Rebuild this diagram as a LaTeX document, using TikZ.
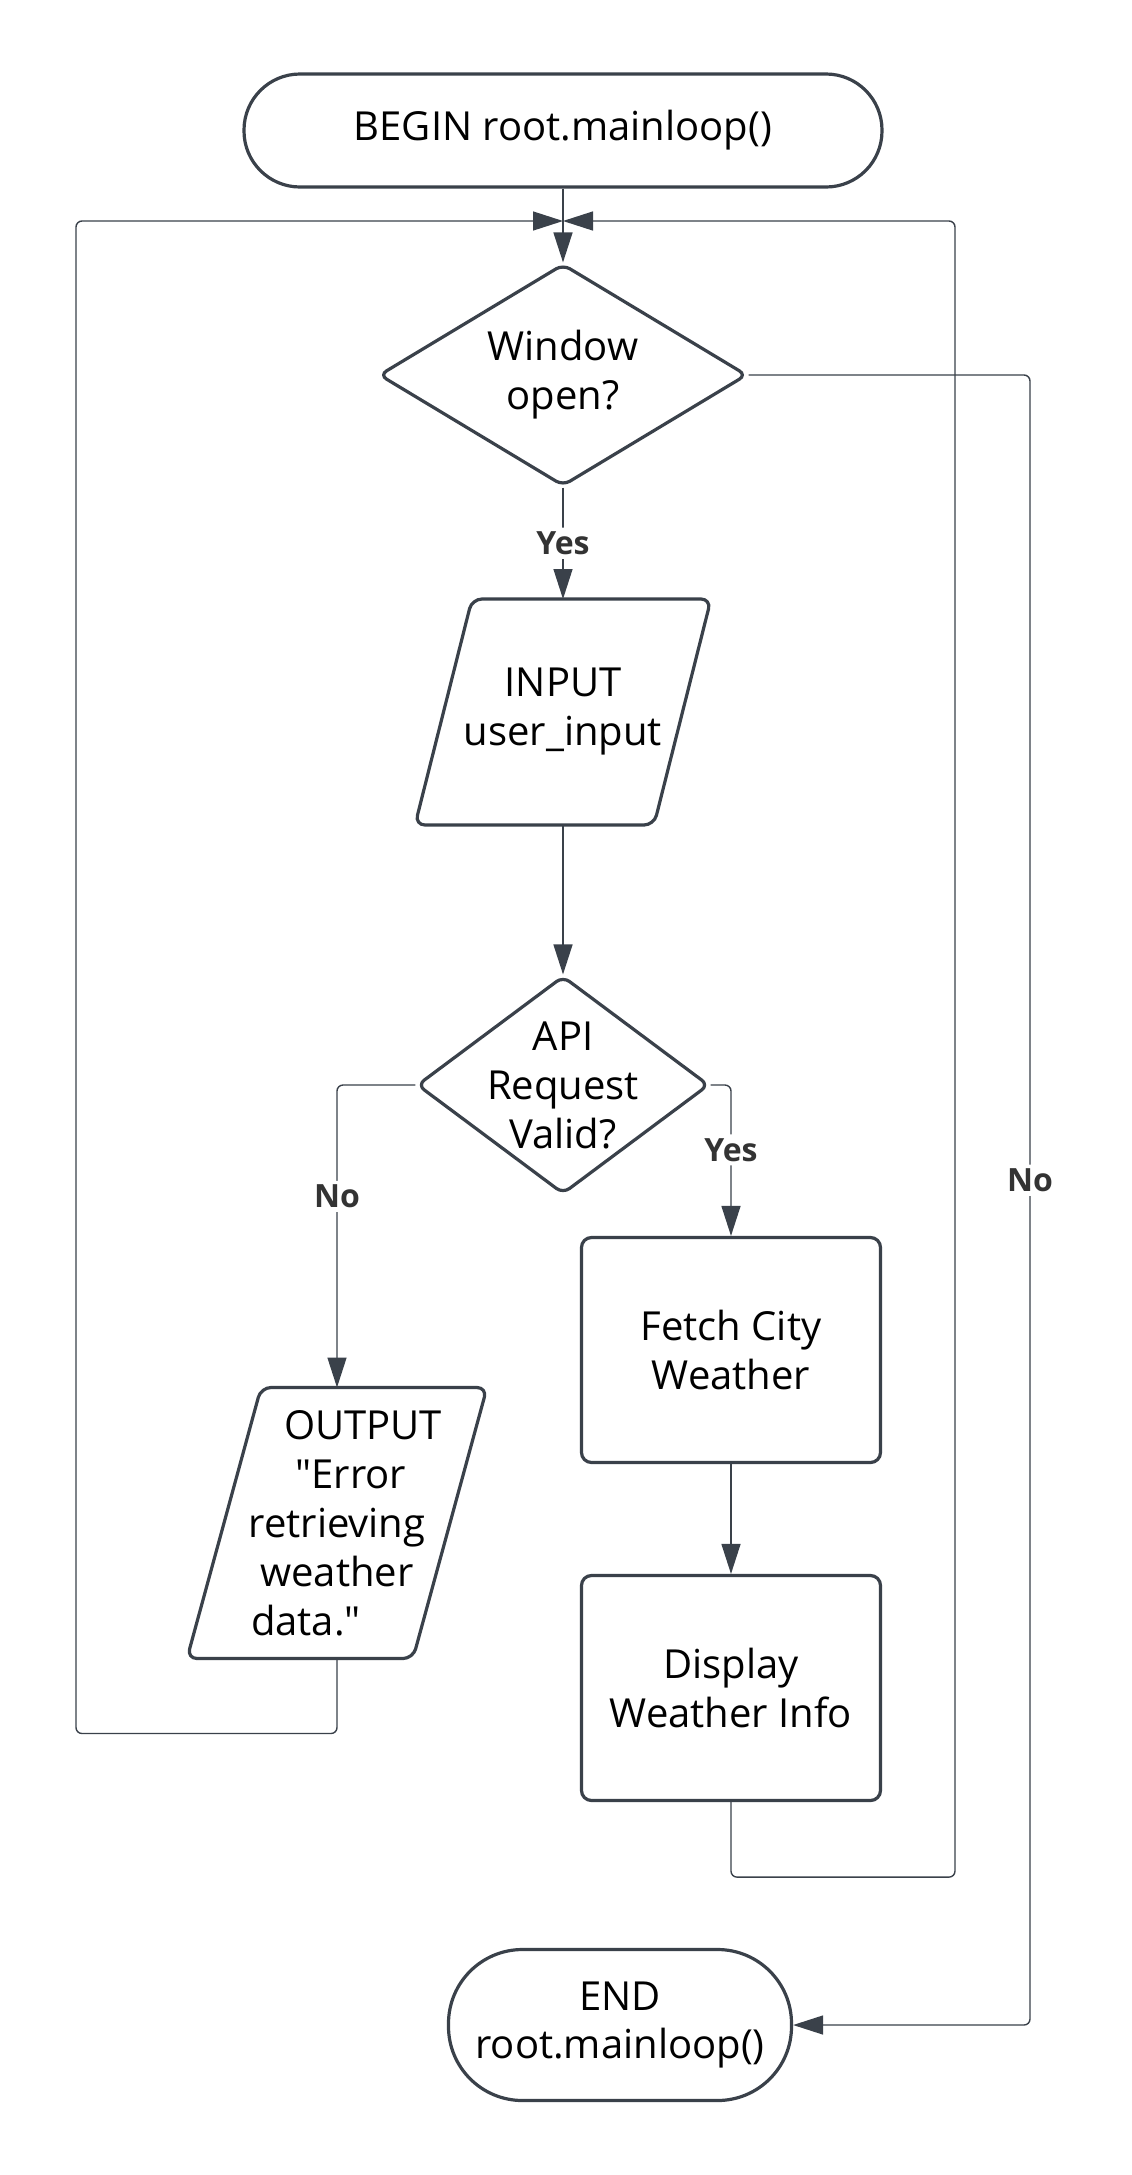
\documentclass[tikz,border=0pt]{standalone}
\usepackage{fontspec}
\setmainfont{Open Sans}
\usetikzlibrary{arrows.meta, shapes.geometric}

\definecolor{ink}{HTML}{3A414A}
\definecolor{labelgray}{HTML}{333333}

\begin{document}
\begin{tikzpicture}[x=0.5pt,y=-0.5pt,>={Triangle[length=15pt,width=9.5pt]},
  boxfont/.style={font=\fontsize{20}{24.5}\selectfont},
  terminal/.style={draw=ink, line width=1.6pt, fill=white, rectangle, boxfont, align=center, inner sep=0pt},
  decision/.style={draw=ink, line width=1.6pt, fill=white, diamond, rounded corners=4pt, inner sep=0pt},
  iobody/.style={rectangle, boxfont, align=center, inner sep=0pt, outer sep=0pt},
  outline/.style={draw=ink, line width=1.6pt, rounded corners=5pt},
  process/.style={draw=ink, line width=1.6pt, fill=white, rectangle, rounded corners=5pt,
    minimum width=149.5pt, minimum height=112.5pt, boxfont, align=center},
  flow/.style={draw=ink, line width=0.7pt, ->, rounded corners=3pt},
  flowlabel/.style={fill=white, text=labelgray, font=\fontsize{16}{19}\selectfont\bfseries, inner sep=2pt},
  every label/.style={align=center, boxfont}]

  % --- page ---------------------------------------------------------
  \path[fill=white, use as bounding box] (0,0) rectangle (1131,2175);

  % --- main column --------------------------------------------------
  \node[terminal, minimum width=319pt, minimum height=56.5pt, rounded corners=28pt]
        (begin) at (563,130.5) {BEGIN root.mainloop()};
  \node[decision, minimum width=184pt, minimum height=111pt, label={center:Window\\open?}]
        (window) at (563,375) {};
  \node[iobody, minimum width=119.5pt, minimum height=113pt]
        (input) at (563,712) {INPUT\\user\_input};
  \draw[outline] ([xshift=14.25pt]input.north west) -- ([xshift=14.25pt]input.north east)
        -- ([xshift=-14.25pt]input.south east) -- ([xshift=-14.25pt]input.south west) -- cycle;
  \node[decision, minimum width=146pt, minimum height=109pt, label={center:API\\Request\\Valid?}]
        (valid) at (563,1085) {};

  % --- branches -----------------------------------------------------
  \node[process] (fetch) at (731,1350) {Fetch City\\Weather};
  \node[process] (show) at (731,1688) {Display\\Weather Info};
  \node[iobody, minimum width=113pt, minimum height=135.5pt]
        (error) at (337,1523) {\hspace*{26pt}OUTPUT\\\hspace*{14pt}\textquotedbl Error\\retrieving\\weather\hspace*{13pt}\\data.\textquotedbl\hspace*{31pt}};
  \draw[outline] ([xshift=18.5pt]error.north west) -- ([xshift=18.5pt]error.north east)
        -- ([xshift=-18.5pt]error.south east) -- ([xshift=-18.5pt]error.south west) -- cycle;

  \node[terminal, minimum width=171.5pt, minimum height=75.5pt, rounded corners=37pt]
        (stop) at (620,2025) {END\\root.mainloop()};

  % --- loop points --------------------------------------------------
  \coordinate (merge) at (563,221);
  \coordinate (leftx) at (76,0);
  \coordinate (rightx) at (955,0);
  \coordinate (nox) at (1030,0);

  % --- connectors ---------------------------------------------------
  \draw[flow] (begin.south) -- (window.north);
  \draw[flow] (window.south) -- node[flowlabel]{Yes} (input.north);
  \draw[flow] (input.south) -- (valid.north);
  \draw[flow] (valid.west) -| node[flowlabel, pos=0.684]{No} (error.north);
  \draw[flow] (valid.east) -| node[flowlabel, pos=0.715]{Yes} (fetch.north);
  \draw[flow] (fetch.south) -- (show.north);

  % back to the loop head
  \draw[flow] (error.south) -- ++(0,75) -| (leftx |- merge) -- (merge);
  \draw[flow] (show.south) -- ++(0,75) -| (rightx |- merge) -- (merge);

  % window closed
  \draw[flow] (window.east) -- (nox |- window.east)
        -- node[flowlabel, pos=0.488]{No} (nox |- stop.east) -- (stop.east);

\end{tikzpicture}
\end{document}
